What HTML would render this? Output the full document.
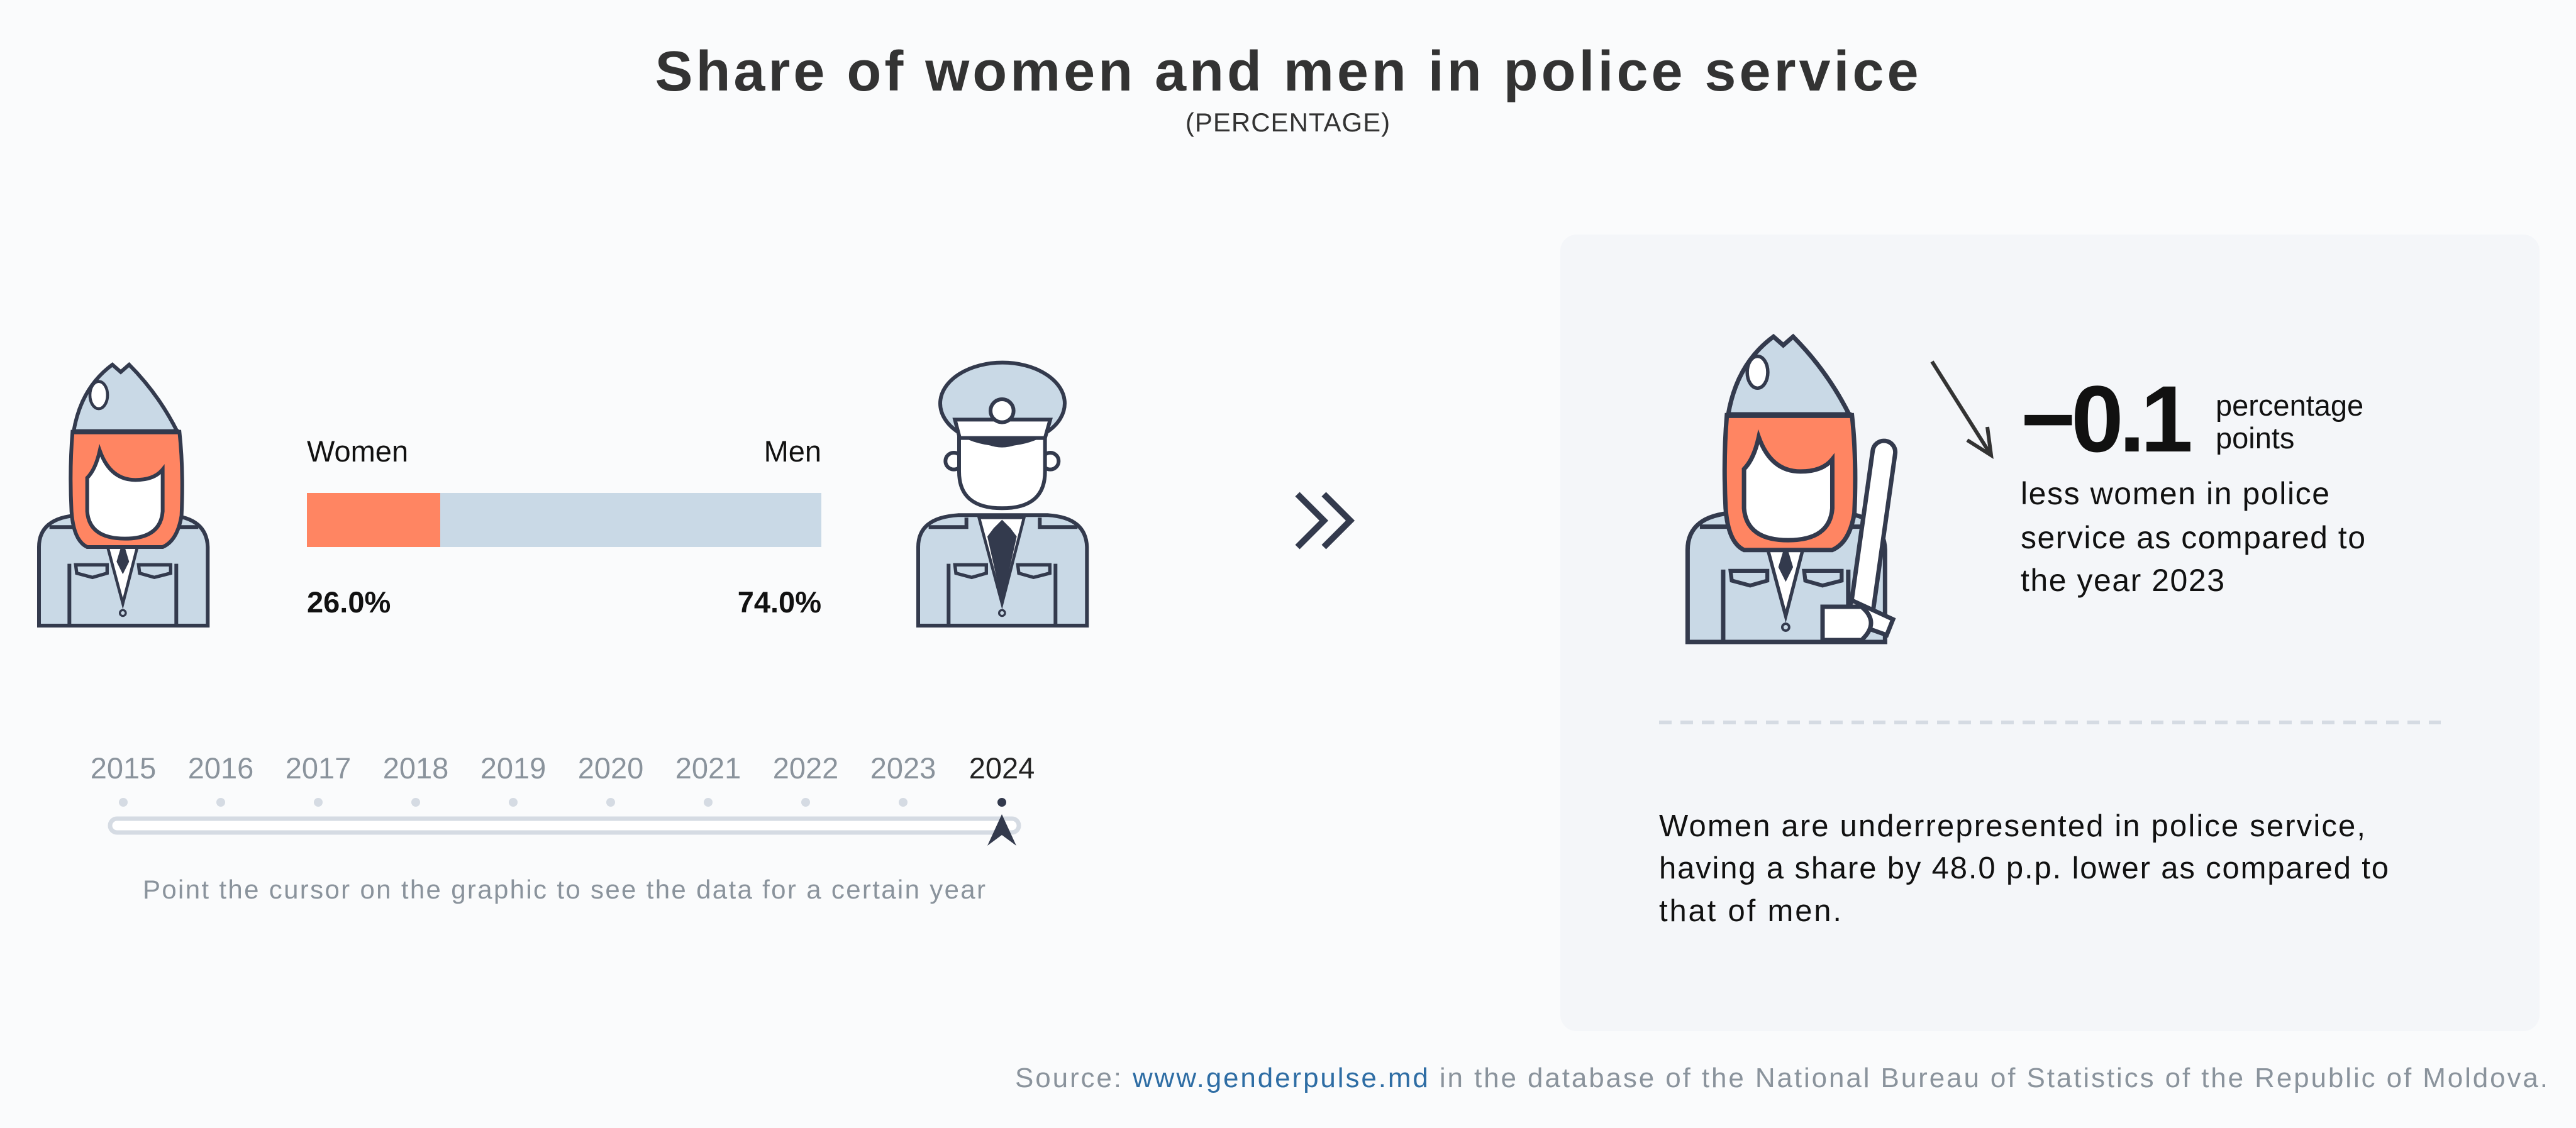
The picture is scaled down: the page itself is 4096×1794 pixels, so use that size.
<!DOCTYPE html>
<html><head><meta charset="utf-8"><style>html,body{margin:0;padding:0;background:#fafbfc}svg{display:block}</style></head>
<body>
<svg width="4096" height="1794" viewBox="0 0 4096 1794" xmlns="http://www.w3.org/2000/svg" font-family="'Liberation Sans', sans-serif">
<defs>
<g id="body">
  <path d="M60,1305 L60,930 Q60,790 250,778 L680,778 Q860,790 865,930 L865,1305 Z" fill="#c9d9e6" stroke="#333a4d" stroke-width="18"/>
  <path d="M110,835 L290,835 L290,790 M640,790 L640,835 L820,835" fill="none" stroke="#333a4d" stroke-width="18"/>
  <path d="M205,1010 L205,1305 M715,1010 L715,1305" stroke="#333a4d" stroke-width="18"/>
  <path d="M235,1015 L385,1015 L385,1055 L315,1075 L240,1055 Z M535,1015 L688,1015 L688,1055 L610,1075 L540,1055 Z" fill="none" stroke="#333a4d" stroke-width="16"/>
  <circle cx="460" cy="1245" r="14" fill="none" stroke="#333a4d" stroke-width="10"/>
</g>
<g id="woman">
  <use href="#body"/>
  <path d="M350,790 L460,1200 L565,790 Z" fill="#fff" stroke="#333a4d" stroke-width="14"/>
  <path d="M420,800 L460,890 L500,800 Z M460,900 L430,1000 L460,1060 L490,1000 Z" fill="#333a4d"/>
  <path d="M220,380 L730,380 Q750,560 740,780 Q720,900 650,930 L290,930 Q225,900 215,760 Q205,560 220,380 Z" fill="#ff8562" stroke="#333a4d" stroke-width="18"/>
  <path d="M290,600 Q330,560 350,470 Q400,610 520,610 Q610,610 650,560 L650,760 Q640,890 470,890 Q300,890 290,760 Z" fill="#fff" stroke="#333a4d" stroke-width="18"/>
  <path d="M225,380 Q260,170 410,60 L450,95 L490,60 Q630,200 720,380 Z" fill="#c9d9e6" stroke="#333a4d" stroke-width="18"/>
  <line x1="222" y1="380" x2="728" y2="380" stroke="#333a4d" stroke-width="24"/>
  <ellipse cx="345" cy="205" rx="42" ry="65" fill="#fff" stroke="#333a4d" stroke-width="14"/>
</g>
</defs>
<rect width="4096" height="1794" fill="#fafbfc"/>
<text x="2046" y="144" text-anchor="middle" font-size="90" font-weight="bold" fill="#333" textLength="2009">Share of women and men in police service</text>
<text x="2048" y="209" text-anchor="middle" font-size="42" fill="#333" letter-spacing="1">(PERCENTAGE)</text>

<g transform="translate(42,560) scale(0.3333)"><use href="#woman"/></g>
<g transform="translate(1440,560) scale(0.3333)">
  <use href="#body"/>
  <path d="M350,790 L460,1200 L565,790 Z" fill="#fff" stroke="#333a4d" stroke-width="14"/>
  <path d="M420,840 L460,800 L500,840 L530,880 L460,1195 L390,880 Z" fill="#333a4d"/>
  <circle cx="230" cy="520" r="40" fill="#fff" stroke="#333a4d" stroke-width="18"/>
  <circle cx="690" cy="520" r="40" fill="#fff" stroke="#333a4d" stroke-width="18"/>
  <path d="M255,400 L255,570 Q255,745 460,745 Q665,745 665,570 L665,400 Z" fill="#fff" stroke="#333a4d" stroke-width="18"/>
  <ellipse cx="462" cy="245" rx="297" ry="195" fill="#c9d9e6" stroke="#333a4d" stroke-width="18"/>
  <path d="M235,322 L690,322 L665,410 L258,410 Z" fill="#fff" stroke="#333a4d" stroke-width="18"/>
  <path d="M335,410 Q460,500 585,410 Z" fill="#333a4d"/>
  <circle cx="460" cy="280" r="55" fill="#fff" stroke="#333a4d" stroke-width="18"/>
</g>

<text x="488" y="734" font-size="47" fill="#111">Women</text>
<text x="1306" y="734" font-size="47" fill="#111" text-anchor="end">Men</text>
<rect x="488" y="784" width="818" height="86" fill="#c9d9e6"/>
<rect x="488" y="784" width="212" height="86" fill="#ff8562"/>
<text x="488" y="974" font-size="47" font-weight="bold" fill="#111">26.0%</text>
<text x="1306" y="974" font-size="47" font-weight="bold" fill="#111" text-anchor="end">74.0%</text>

<path d="M2063,786 L2105,828 L2063,870 M2105,786 L2147,828 L2105,870" fill="none" stroke="#333a4d" stroke-width="10"/>

<g font-size="47" fill="#8a939c" text-anchor="middle">
<text x="196" y="1238">2015</text><text x="351" y="1238">2016</text><text x="506" y="1238">2017</text><text x="661" y="1238">2018</text><text x="816" y="1238">2019</text><text x="971" y="1238">2020</text><text x="1126" y="1238">2021</text><text x="1281" y="1238">2022</text><text x="1436" y="1238">2023</text><text x="1593" y="1238" fill="#222">2024</text>
</g>
<g fill="#d5dbe3">
<circle cx="196" cy="1276" r="7"/><circle cx="351" cy="1276" r="7"/><circle cx="506" cy="1276" r="7"/><circle cx="661" cy="1276" r="7"/><circle cx="816" cy="1276" r="7"/><circle cx="971" cy="1276" r="7"/><circle cx="1126" cy="1276" r="7"/><circle cx="1281" cy="1276" r="7"/><circle cx="1436" cy="1276" r="7"/><circle cx="1593" cy="1276" r="7" fill="#333a4d"/>
</g>
<rect x="175" y="1302" width="1445" height="22" rx="11" fill="#fff" stroke="#d5dbe3" stroke-width="7"/>
<path d="M1593,1295 L1616,1345 L1593,1328 L1570,1345 Z" fill="#333a4d"/>
<text x="897" y="1429" text-anchor="middle" font-size="42" fill="#8a939c" textLength="1340">Point the cursor on the graphic to see the data for a certain year</text>

<rect x="2481" y="373" width="1557" height="1267" rx="26" fill="#f4f6f9"/>
<g transform="translate(2660,512) scale(0.39)"><use href="#woman"/></g>
<g transform="translate(2980,830) rotate(8)">
  <rect x="-18" y="-130" width="36" height="300" rx="18" fill="#fff" stroke="#333a4d" stroke-width="7"/>
</g>
<path d="M2945,955 L3010,985 L3000,1010 L2930,985 Z" fill="#fff" stroke="#333a4d" stroke-width="7"/>
<path d="M2898,965 L2960,965 Q2990,990 2960,1018 L2898,1018 Z" fill="#fff" stroke="#333a4d" stroke-width="7"/>
<line x1="3072" y1="575" x2="3166" y2="724" stroke="#333" stroke-width="6"/>
<path d="M3160,679 L3166,724 L3128,700" fill="none" stroke="#333" stroke-width="6"/>
<text x="3213" y="718" font-size="150" font-weight="bold" fill="#111" textLength="274">−0.1</text>
<text x="3523" y="661" font-size="47" fill="#111">percentage</text>
<text x="3523" y="713" font-size="47" fill="#111">points</text>
<g font-size="50" fill="#111">
<text x="3213" y="802" textLength="491">less women in police</text>
<text x="3213" y="872" textLength="548">service as compared to</text>
<text x="3213" y="940" textLength="324">the year 2023</text>
</g>
<line x1="2638" y1="1149" x2="3881" y2="1149" stroke="#d5dbe3" stroke-width="6" stroke-dasharray="20 14"/>
<g font-size="49" fill="#111">
<text x="2638" y="1330" textLength="1123">Women are underrepresented in police service,</text>
<text x="2638" y="1397" textLength="1160">having a share by 48.0 p.p. lower as compared to</text>
<text x="2638" y="1465" textLength="290">that of men.</text>
</g>
<text x="4051" y="1729" text-anchor="end" font-size="44" fill="#8a939c" textLength="2437">Source: <tspan fill="#2e6da4">www.genderpulse.md</tspan> in the database of the National Bureau of Statistics of the Republic of Moldova.</text>
</svg>
</body></html>
